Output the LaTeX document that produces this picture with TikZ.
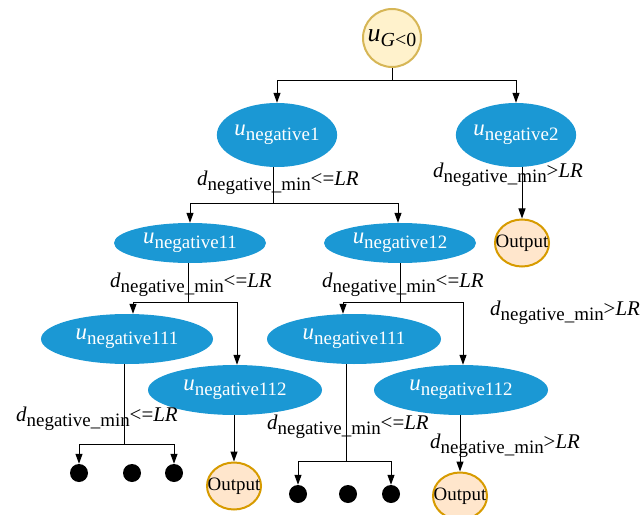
\documentclass[tikz,border=0pt]{standalone}
\usepackage{fontspec}
\setmainfont{Liberation Serif}
\usetikzlibrary{arrows.meta,shapes.geometric}
\definecolor{blueF}{HTML}{1B98D4}
\definecolor{yelF}{HTML}{FFF2CC}
\definecolor{yelD}{HTML}{D6B656}
\definecolor{orF}{HTML}{FFE6CC}
\definecolor{orD}{HTML}{D79B00}
\newcommand{\unode}[1]{{\fontsize{23}{26}\selectfont\textit{u}}\raisebox{-5bp}{\fontsize{19}{20}\selectfont #1}}
\newcommand{\dlab}[1]{\textit{d}\raisebox{-5bp}{\fontsize{19}{20}\selectfont negative\_min}#1\textit{LR}}
\newcommand{\outtxt}{\makebox[0pt]{Output}}
\begin{document}
\begin{tikzpicture}[x=1bp,y=-1bp,
  bell/.style={ellipse,fill=blueF,draw=none,inner sep=0pt,text=white},
  outc/.style={ellipse,fill=orF,draw=orD,line width=2bp,minimum width=54bp,minimum height=47bp,inner sep=0pt,font=\fontsize{19}{21}\selectfont},
  topc/.style={circle,fill=yelF,draw=yelD,line width=2bp,minimum size=58bp,inner sep=0pt},
  dotn/.style={circle,fill=black,minimum size=18bp,inner sep=0pt},
  conn/.style={draw=black,line width=1bp},
  arr/.style={conn,-{Triangle[length=10bp,width=7bp]}},
  lab/.style={anchor=base west,inner sep=0pt,font=\fontsize{21}{24}\selectfont}]
\useasboundingbox (0,0) rectangle (640,515);
% nodes
\node[topc] (top) at (392,38) {{\fontsize{26}{28}\selectfont\textit{u}}\raisebox{-5bp}{\fontsize{20}{22}\selectfont\textit{G}<0}};
\node[bell,minimum width=118bp,minimum height=64bp] (n1) at (277,135) {\unode{negative1}};
\node[bell,minimum width=112bp,minimum height=64bp] (n2) at (516,135) {\unode{negative2}};
\node[outc] (o2) at (522,243) {\outtxt};
\node[bell,minimum width=152bp,minimum height=40bp] (n11) at (190,243) {\unode{negative11}};
\node[bell,minimum width=152bp,minimum height=40bp] (n12) at (400,243) {\unode{negative12}};
\node[bell,minimum width=172bp,minimum height=50bp] (n111a) at (127,339) {\unode{negative111}};
\node[bell,minimum width=174bp,minimum height=50bp] (n112a) at (235,390) {\unode{negative112}};
\node[bell,minimum width=174bp,minimum height=50bp] (n111b) at (354,339) {\unode{negative111}};
\node[bell,minimum width=174bp,minimum height=50bp] (n112b) at (461,390) {\unode{negative112}};
\node[outc] (o1) at (234,486) {\outtxt};
\node[outc] (o3) at (460,496) {\outtxt};
\node[dotn] (d1) at (79,473) {};
\node[dotn] (d2) at (132,473) {};
\node[dotn] (d3) at (174,473) {};
\node[dotn] (e1) at (298,494) {};
\node[dotn] (e2) at (348,494) {};
\node[dotn] (e3) at (391,494) {};
% connectors
\draw[conn] (top.south) -- ++(0,13) coordinate (j0);
\draw[arr] (j0) -| (n1.north);
\draw[arr] (j0) -| (n2.north);
\draw[conn] ([xshift=-4bp]n1.south) -- ++(0,36) coordinate (j1);
\draw[arr] (j1) -| (n11.north);
\draw[arr] (j1) -| ([xshift=-2bp]n12.north);
\draw[arr] (o2.north |- n2.south) -- (o2.north);
\draw[conn] ([xshift=-2bp]n11.south) -- ++(0,39) coordinate (j2);
\draw[arr] (j2) -| ([xshift=6bp]n111a.north);
\draw[arr] (j2) -| ([xshift=2bp]n112a.north);
\draw[conn] (n12.south) -- ++(0,39) coordinate (j3);
\draw[arr] (j3) -| ([xshift=-11bp]n111b.north);
\draw[arr] (j3) -| ([xshift=2bp]n112b.north);
\draw[conn] ([xshift=-3bp]n111a.south) -- ++(0,80) coordinate (j4);
\draw[arr] (j4) -| (d1.north);
\draw[arr] (j4) -| (d3.north);
\draw[arr] (o1.north |- n112a.south) -- (o1.north);
\draw[conn] ([xshift=-8bp]n111b.south) -- ++(0,97) coordinate (j5);
\draw[arr] (j5) -| (e1.north);
\draw[arr] (j5) -| (e3.north);
\draw[arr] (o3.north |- n112b.south) -- (o3.north);
% labels
\node[lab] (l1) at (197,186) {\dlab{<=}};
\node[lab] (l2) at (433,178) {\dlab{>}};
\node[lab] (l3) at (110,287) {\dlab{<=}};
\node[lab] (l4) at (322,287) {\dlab{<=}};
\node[lab] (l5) at (490,315) {\dlab{>}};
\node[lab] (l6) at (16,421) {\dlab{<=}};
\node[lab] (l7) at (267,429) {\dlab{<=}};
\node[lab] (l8) at (430,448) {\dlab{>}};
\end{tikzpicture}
\end{document}
